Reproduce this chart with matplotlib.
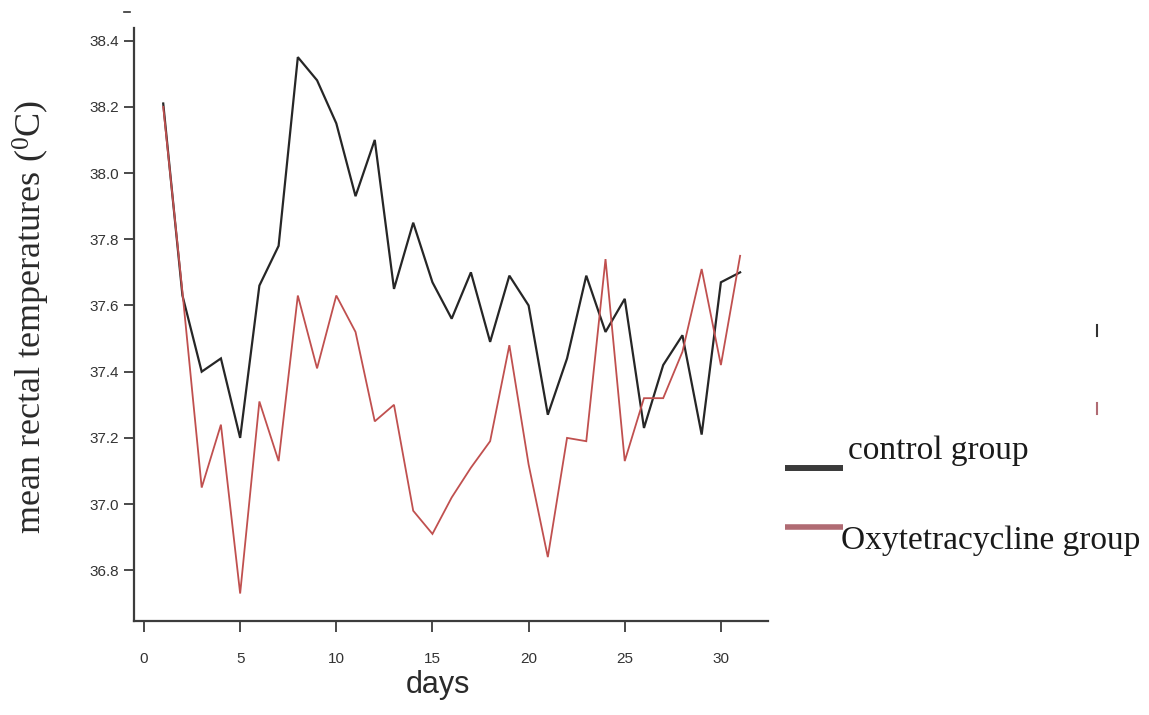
import matplotlib
matplotlib.use("Agg")
import matplotlib.pyplot as plt
from matplotlib.lines import Line2D

# ---- data ----
days = list(range(1, 32))
control = [38.21, 37.63, 37.40, 37.44, 37.20, 37.66, 37.78, 38.35, 38.28, 38.15,
           37.93, 38.10, 37.65, 37.85, 37.67, 37.56, 37.70, 37.49, 37.69, 37.60,
           37.27, 37.44, 37.69, 37.52, 37.62, 37.23, 37.42, 37.51, 37.21, 37.67, 37.70]
oxytetracycline = [38.20, 37.64, 37.05, 37.24, 36.73, 37.31, 37.13, 37.63, 37.41, 37.63,
                   37.52, 37.25, 37.30, 36.98, 36.91, 37.02, 37.11, 37.19, 37.48, 37.12,
                   36.84, 37.20, 37.19, 37.74, 37.13, 37.32, 37.32, 37.46, 37.71, 37.42, 37.75]
x_ticks = [0, 5, 10, 15, 20, 25, 30]
y_ticks = [36.8, 37.0, 37.2, 37.4, 37.6, 37.8, 38.0, 38.2, 38.4]
series_labels = ["control group", "Oxytetracycline group"]
x_label = "days"
y_label = "mean rectal temperatures ($^{0}$C)"

plt.rcParams['mathtext.fontset'] = 'custom'
plt.rcParams['mathtext.rm'] = 'Liberation Serif'
plt.rcParams['mathtext.it'] = 'Liberation Serif:italic'

W, H = 1149, 715
fig = plt.figure(figsize=(W / 100, H / 100), dpi=100)
fig.patch.set_facecolor('white')

L, R, T, B = 134, 768, 28, 621
ax = fig.add_axes([L / W, 1 - B / H, (R - L) / W, (B - T) / H])

black = '#262626'
red = '#c0504f'
ax.plot(days, control, color=black, lw=1.6, solid_joinstyle='miter')
ax.plot(days, oxytetracycline, color=red, lw=1.3, solid_joinstyle='miter')

ax.set_xlim(-0.52, 32.45)
ax.set_ylim(36.647, 38.438)
ax.set_xticks(x_ticks)
ax.set_yticks(y_ticks)
ax.set_yticklabels([f"{v:.1f}" for v in y_ticks])

for s in ['top', 'right']:
    ax.spines[s].set_visible(False)
for s in ['left', 'bottom']:
    ax.spines[s].set_color('#3c3c3c')
    ax.spines[s].set_linewidth(1.6)

ax.tick_params(axis='y', direction='out', length=7, width=1.3, color='#3c3c3c',
               pad=4, labelsize=11, labelcolor='#333333')
ax.tick_params(axis='x', direction='out', length=8, width=1.3, color='#3c3c3c',
               pad=14, labelsize=11, labelcolor='#333333')
for lab in ax.get_xticklabels() + ax.get_yticklabels():
    lab.set_fontfamily('Liberation Sans')

ax.set_xlabel(x_label, fontsize=22, family='Liberation Sans', color='#2a2a2a')
ax.xaxis.set_label_coords((438 - L) / (R - L), -0.082)
ax.set_ylabel(y_label, fontsize=26, family='Liberation Serif', color='#2a2a2a')
ax.yaxis.set_label_coords((52 - L) / (R - L), 0.513)

# ---- legend drawn outside to the right ----
def fx(px):
    return px / W

def fy(py):
    return 1 - py / H

fig.add_artist(Line2D([fx(785), fx(843)], [fy(468), fy(468)], color='#3a3a3a', lw=4.3,
                      transform=fig.transFigure, solid_capstyle='butt'))
fig.text(fx(848), fy(459), series_labels[0], fontsize=24, family='Liberation Serif',
         color='#1a1a1a', ha='left', va='baseline')
fig.add_artist(Line2D([fx(785), fx(843)], [fy(527), fy(527)], color='#b06b73', lw=4.0,
                      transform=fig.transFigure, solid_capstyle='butt'))
fig.text(fx(841), fy(549), series_labels[1], fontsize=24, family='Liberation Serif',
         color='#1a1a1a', ha='left', va='baseline')

# small stray marks present in the reference image
fig.add_artist(Line2D([fx(1097), fx(1097)], [fy(325), fy(336)], color='#333333', lw=1.5,
                      transform=fig.transFigure))
fig.add_artist(Line2D([fx(1097), fx(1097)], [fy(403), fy(414)], color='#b06b73', lw=1.5,
                      transform=fig.transFigure))
fig.add_artist(Line2D([fx(124), fx(130)], [fy(12), fy(12)], color='#333333', lw=1.2,
                      transform=fig.transFigure))

fig.savefig('out.png', dpi=100, facecolor='white')
